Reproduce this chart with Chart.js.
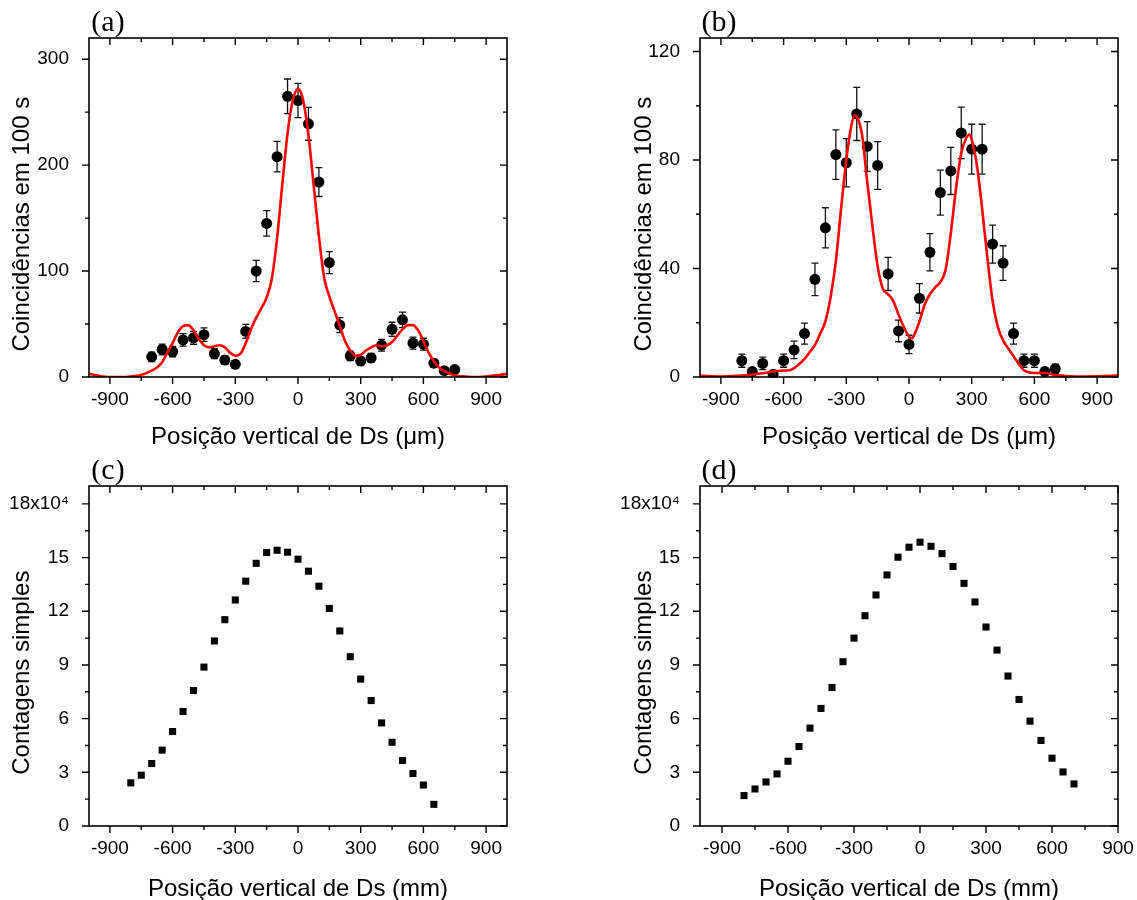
<!DOCTYPE html>
<html>
<head>
<meta charset="utf-8">
<script src="https://cdn.jsdelivr.net/npm/chart.js@4"></script>
<style>
  body { margin: 0; background: #fff; overflow: hidden; }
  #wrap { position: relative; width: 1137px; height: 900px; }
  canvas { position: absolute; }
</style>
</head>
<body>
<div id="wrap">
  <canvas id="chart-a" width="560" height="460" style="left:0;top:0"></canvas>
  <canvas id="chart-b" width="577" height="460" style="left:560px;top:0"></canvas>
  <canvas id="chart-c" width="560" height="440" style="left:0;top:460px"></canvas>
  <canvas id="chart-d" width="577" height="440" style="left:560px;top:460px"></canvas>
</div>
<script>
// panel (a): coincidences, single peak
const posA = [-700,-650,-600,-550,-500,-450,-400,-350,-300,-250,-200,-150,-100,-50,0,50,100,150,200,250,300,350,400,450,500,550,600,650,700,750];
const countsA = [19,26,24,35,37,40,22,16,12,43,100,145,208,265,261,239,184,108,49,20,15,18,30,45,54,32,31,13,6,7];
const errA = [4.4,5.1,4.9,5.9,6.1,6.3,4.7,4.0,3.5,6.6,10,12,14.4,16.3,16.2,15.5,13.6,10.4,7.0,4.5,3.9,4.2,5.5,6.7,7.3,5.7,5.6,3.6,2.4,2.6];
const fitXA = [-1000,-950,-900,-850,-800,-750,-700,-675,-650,-625,-600,-575,-550,-525,-500,-475,-450,-425,-400,-375,-350,-325,-300,-275,-250,-225,-200,-175,-150,-125,-100,-75,-50,-25,0,25,50,75,100,125,150,175,200,225,250,275,300,325,350,375,400,425,450,475,500,525,550,575,600,625,650,675,700,750,800,850,900,950,1000];
const fitYA = [3,1,0,0,0.5,2,6,9,14,23,32,42,48,49,44,36,30,28,29,30,28,23,20,22,32,45,56,65,75,93,131,182,230,261,272,261,228,181,133,94,76,62,48,34,25,20,21,25,28,30,29,30,33,39,45,49,49,44,34,23,15,9,5.5,1.5,0.5,0,0.5,1.5,3];

// panel (b): coincidences, double peak
const posB = [-800,-750,-700,-650,-600,-550,-500,-450,-400,-350,-300,-250,-200,-150,-100,-50,0,50,100,150,200,250,300,350,400,450,500,550,600,650,700];
const countsB = [6,2,5,1,6,10,16,36,55,82,79,97,85,78,38,17,12,29,46,68,76,90,84,84,49,42,16,6,6,2,3];
const errB = [2.4,1.4,2.3,1,2.4,3.2,3.9,6,7.4,9.1,8.9,9.8,9.2,8.8,6.1,4,3.4,5.4,6.9,8.3,8.7,9.5,9.2,9.2,7,6.4,3.9,2.4,2.4,1.4,1.7];
const fitXB = [-1000,-900,-800,-700,-650,-600,-575,-550,-525,-500,-475,-450,-425,-400,-375,-350,-325,-300,-275,-260,-250,-225,-200,-175,-150,-125,-100,-75,-50,-25,0,15,25,50,75,100,125,150,175,200,225,250,275,290,300,325,350,375,400,425,450,475,500,525,550,600,650,700,800,900,1000];
const fitYB = [0.5,0.2,0.5,1.4,2,2.4,2.4,3.3,4.8,6.7,9.2,11.8,16,20.5,29.5,42.7,62,80,93,96.5,96,89.5,72,55.6,40.8,32.5,30.5,28,23,18.5,15,14.3,15.5,20.5,26.7,30.5,33,35,39.5,53,69.5,82.5,88.3,89.4,87.5,78,62,44,28,18.5,13.5,10.5,7.7,4.8,2.5,1.5,1.5,0.7,0.2,0.3,0.5];

// panels (c) and (d): single counts
const posC = [-800,-750,-700,-650,-600,-550,-500,-450,-400,-350,-300,-250,-200,-150,-100,-50,0,50,100,150,200,250,300,350,400,450,500,550,600,650];
const countsC = [24100,28400,34900,42400,52800,64000,75700,88800,103400,115300,126300,136800,146800,152800,154100,153000,149100,142400,134000,121600,109000,94600,82100,70100,57600,46800,36600,29300,22900,12100];
const posD = [-800,-750,-700,-650,-600,-550,-500,-450,-400,-350,-300,-250,-200,-150,-100,-50,0,50,100,150,200,250,300,350,400,450,500,550,600,650,700];
const countsD = [17000,20700,24600,29100,36200,44400,54700,65700,77400,91800,105000,117500,129100,140300,150200,155800,158600,156300,152200,145000,135600,125200,111200,98300,83800,70700,58600,47800,37900,30200,23500];

// tick labels
const xTicks = [-900,-600,-300,0,300,600,900];
const yTicksA = [0,100,200,300];
const yTicksB = [0,40,80,120];
const yTicksCD = [0,30000,60000,90000,120000,150000,180000];
const yLabelsCD = ['0','3','6','9','12','15','18x10\u2074'];

const SANS = '"Liberation Sans", Arial, sans-serif';

// frame with ticks on all four sides, error bars and panel letter
const framePlugin = {
  id: 'frame',
  beforeDatasetsDraw(chart, args, opts) {
    if (!opts.errors) return;
    const {ctx, scales: {x, y}} = chart;
    const pts = chart.data.datasets[1].data;
    ctx.save();
    ctx.strokeStyle = '#111';
    ctx.lineWidth = 1.3;
    pts.forEach((p, i) => {
      const e = opts.errors[i];
      const px = x.getPixelForValue(p.x);
      const y1 = y.getPixelForValue(p.y + e), y2 = y.getPixelForValue(p.y - e);
      ctx.beginPath();
      ctx.moveTo(px, y1); ctx.lineTo(px, y2);
      ctx.moveTo(px - 3.5, y1); ctx.lineTo(px + 3.5, y1);
      ctx.moveTo(px - 3.5, y2); ctx.lineTo(px + 3.5, y2);
      ctx.stroke();
    });
    ctx.restore();
  },
  afterDraw(chart, args, opts) {
    const {ctx, chartArea: a, scales: {x, y}} = chart;
    const minors = (s) => {
      const v = s.ticks.map(t => t.value);
      const d = v[1] - v[0];
      return [v[0] - d / 2, ...v.map(t => t + d / 2)].filter(t => t > s.min && t < s.max);
    };
    ctx.save();
    ctx.strokeStyle = '#000';
    ctx.lineWidth = 1.6;
    ctx.strokeRect(a.left, a.top, a.right - a.left, a.bottom - a.top);
    ctx.lineWidth = 1.4;
    ctx.beginPath();
    const xt = (vals, len) => vals.forEach(v => {
      const px = x.getPixelForValue(v);
      ctx.moveTo(px, a.bottom); ctx.lineTo(px, a.bottom + len);
      ctx.moveTo(px, a.top); ctx.lineTo(px, a.top + len);
    });
    const yt = (vals, len) => vals.forEach(v => {
      const py = y.getPixelForValue(v);
      ctx.moveTo(a.left, py); ctx.lineTo(a.left - len, py);
      ctx.moveTo(a.right, py); ctx.lineTo(a.right - len, py);
    });
    xt(x.ticks.map(t => t.value), 7);
    xt(minors(x), 4);
    yt(y.ticks.map(t => t.value), 7);
    yt(minors(y), 4);
    ctx.stroke();
    ctx.fillStyle = '#000';
    ctx.font = '30px "Liberation Serif", "Times New Roman", serif';
    ctx.textAlign = 'center';
    ctx.textBaseline = 'alphabetic';
    ctx.fillText(opts.label, a.left + 19, a.top - 7);
    ctx.restore();
  }
};

function makeChart(id, cfg) {
  return new Chart(document.getElementById(id), {
    type: 'scatter',
    data: { datasets: cfg.datasets },
    options: {
      responsive: false,
      animation: false,
      devicePixelRatio: 1,
      layout: { padding: cfg.padding },
      plugins: {
        legend: { display: false },
        tooltip: { enabled: false },
        frame: { label: cfg.label, errors: cfg.errors }
      },
      scales: {
        x: {
          type: 'linear',
          min: cfg.xMin, max: cfg.xMax,
          afterBuildTicks: s => { s.ticks = xTicks.map(v => ({ value: v })); },
          afterFit: s => { s.height = cfg.xHeight; },
          grid: { display: false },
          border: { display: false },
          ticks: { color: '#000', font: { family: SANS, size: 19 }, padding: 3, maxRotation: 0, autoSkip: false,
                   callback: v => String(v) },
          title: { display: true, text: cfg.xTitle, color: '#000', font: { family: SANS, size: 24 },
                   padding: { top: 0, bottom: cfg.xTitlePad } }
        },
        y: {
          type: 'linear',
          min: 0, max: cfg.yMax,
          afterBuildTicks: s => { s.ticks = cfg.yTicks.map(v => ({ value: v })); },
          afterFit: s => { s.width = cfg.yWidth; },
          grid: { display: false },
          border: { display: false },
          ticks: { color: '#000', font: { family: SANS, size: 19 }, padding: 12, autoSkip: false,
                   callback: (v, i) => cfg.yLabels ? cfg.yLabels[i] : String(v) },
          title: { display: true, text: cfg.yTitle + '\u00a0\u00a0\u00a0\u00a0\u00a0', color: '#000',
                   font: { family: SANS, size: 24 }, padding: { top: cfg.yTitlePad, bottom: 0 } }
        }
      }
    },
    plugins: [framePlugin]
  });
}

const toXY = (xs, ys) => xs.map((x, i) => ({ x: x, y: ys[i] }));

const fitStyle = { showLine: true, borderColor: '#ff0000', borderWidth: 2.6, pointRadius: 0,
                   cubicInterpolationMode: 'monotone', fill: false };
const dotStyle = { pointRadius: 5.5, pointBackgroundColor: '#000', pointBorderWidth: 0, borderColor: '#000' };
const squareStyle = { pointStyle: 'rect', pointRadius: 5, pointBackgroundColor: '#000', pointBorderWidth: 0, borderColor: '#000' };

makeChart('chart-a', {
  label: '(a)',
  datasets: [
    Object.assign({ data: toXY(fitXA, fitYA) }, fitStyle),
    Object.assign({ data: toXY(posA, countsA) }, dotStyle)
  ],
  errors: errA,
  padding: { top: 38, right: 53, left: 0, bottom: 0 },
  xMin: -1000, xMax: 1000, xHeight: 83, xTitlePad: 8,
  xTitle: 'Posição vertical de Ds (μm)',
  yMax: 320, yTicks: yTicksA, yWidth: 89, yTitlePad: 8,
  yTitle: 'Coincidências em 100 s'
});

makeChart('chart-b', {
  label: '(b)',
  datasets: [
    Object.assign({ data: toXY(fitXB, fitYB) }, fitStyle),
    Object.assign({ data: toXY(posB, countsB) }, dotStyle)
  ],
  errors: errB,
  padding: { top: 38, right: 19, left: 0, bottom: 0 },
  xMin: -1000, xMax: 1000, xHeight: 83, xTitlePad: 8,
  xTitle: 'Posição vertical de Ds (μm)',
  yMax: 125, yTicks: yTicksB, yWidth: 140, yTitlePad: 70,
  yTitle: 'Coincidências em 100 s'
});

makeChart('chart-c', {
  label: '(c)',
  datasets: [
    { data: [] },
    Object.assign({ data: toXY(posC, countsC) }, squareStyle)
  ],
  padding: { top: 26, right: 53, left: 0, bottom: 0 },
  xMin: -1000, xMax: 1000, xHeight: 74, xTitlePad: -4,
  xTitle: 'Posição vertical de Ds (mm)',
  yMax: 190000, yTicks: yTicksCD, yLabels: yLabelsCD, yWidth: 89, yTitlePad: 8,
  yTitle: 'Contagens simples'
});

makeChart('chart-d', {
  label: '(d)',
  datasets: [
    { data: [] },
    Object.assign({ data: toXY(posD, countsD) }, squareStyle)
  ],
  padding: { top: 26, right: 19, left: 0, bottom: 0 },
  xMin: -1000, xMax: 900, xHeight: 74, xTitlePad: -4,
  xTitle: 'Posição vertical de Ds (mm)',
  yMax: 190000, yTicks: yTicksCD, yLabels: yLabelsCD, yWidth: 140, yTitlePad: 70,
  yTitle: 'Contagens simples'
});
</script>
</body>
</html>
